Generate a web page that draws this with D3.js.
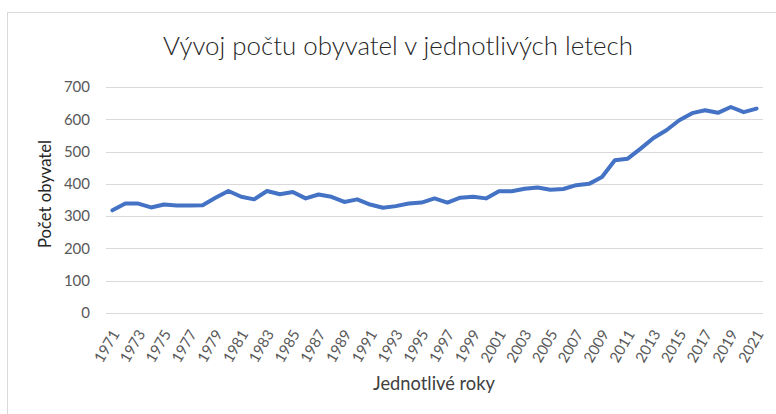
<!DOCTYPE html>
<html>
<head>
<meta charset="utf-8">
<script src="https://cdn.jsdelivr.net/npm/d3@7"></script>
<style>
  body { margin: 0; background: #fff; }
  svg { display: block; font-family: Lato, "Open Sans", sans-serif; }
</style>
</head>
<body>
<svg id="chart" width="776" height="414"></svg>
<script>
const years = d3.range(1971, 2022);
const population = [
  318, 339, 339, 327, 336, 333, 333, 334, 357, 378,
  360, 352, 378, 368, 375, 355, 367, 360, 344, 352,
  336, 326, 331, 339, 342, 355, 342, 357, 360, 355,
  377, 377, 385, 389, 382, 384, 396, 400, 421, 473,
  478, 509, 542, 566, 597, 619, 628, 620, 638, 622,
  633
];
const yTicks = [0, 100, 200, 300, 400, 500, 600, 700];
const xTickYears = years.filter((d, i) => i % 2 === 0);

const titleText = "Vývoj počtu obyvatel v jednotlivých letech";
const xTitle = "Jednotlivé roky";
const yTitle = "Počet obyvatel";

function main() {
  const svg = d3.select("#chart");
  const plot = {left: 106, right: 763, top: 87, bottom: 313};

  // chart area border (only left/top edges are visible in the picture)
  svg.append("rect")
    .attr("x", 7.5).attr("y", 12.5)
    .attr("width", 900).attr("height", 500)
    .attr("fill", "none")
    .attr("stroke", "#d9d9d9");

  const x = d3.scaleBand().domain(years).range([plot.left, plot.right]);
  const y = d3.scaleLinear().domain([0, 700]).range([plot.bottom, plot.top]);

  drawGrid(svg, y, plot);
  drawAxes(svg, x, y, plot);
  drawLine(svg, x, y);
  drawTitles(svg);
}

function drawGrid(svg, y, plot) {
  svg.append("g")
    .selectAll("line")
    .data(yTicks)
    .join("line")
    .attr("x1", plot.left).attr("x2", plot.right)
    .attr("y1", d => Math.round(y(d)) + 0.5)
    .attr("y2", d => Math.round(y(d)) + 0.5)
    .attr("stroke", "#d9d9d9")
    .attr("stroke-width", 1);
}

function drawAxes(svg, x, y, plot) {
  const yAxis = svg.append("g")
    .attr("transform", `translate(${plot.left - 16},0)`)
    .call(d3.axisLeft(y).tickValues(yTicks).tickSize(0).tickPadding(0));
  yAxis.select(".domain").remove();
  yAxis.selectAll("text")
    .attr("font-family", "Lato, sans-serif")
    .attr("font-size", 15)
    .attr("fill", "#595959");

  const xAxis = svg.append("g")
    .attr("transform", `translate(0,${plot.bottom})`)
    .call(d3.axisBottom(x).tickValues(xTickYears).tickSize(0).tickPadding(0));
  xAxis.select(".domain").remove();
  xAxis.selectAll("text")
    .attr("font-family", "Lato, sans-serif")
    .attr("font-size", 15)
    .attr("fill", "#595959")
    .attr("text-anchor", "end")
    .attr("dy", "0.35em")
    .attr("transform", "translate(3,18) rotate(-60)");
}

function drawLine(svg, x, y) {
  const line = d3.line()
    .x((d, i) => x(years[i]) + x.bandwidth() / 2)
    .y(d => y(d));

  svg.append("path")
    .datum(population)
    .attr("fill", "none")
    .attr("stroke", "#4472c4")
    .attr("stroke-width", 4)
    .attr("stroke-linejoin", "round")
    .attr("stroke-linecap", "round")
    .attr("d", line);
}

function fitText(sel, target) {
  const len = sel.node().getComputedTextLength();
  const size = parseFloat(sel.attr("font-size"));
  sel.attr("font-size", size * target / len);
}

function drawTitles(svg) {
  const t = svg.append("text")
    .attr("x", 398).attr("y", 55)
    .attr("text-anchor", "middle")
    .attr("font-family", "Lato, sans-serif")
    .attr("font-weight", 300)
    .attr("font-size", 22)
    .attr("fill", "#262626")
    .text(titleText);
  fitText(t, 470);

  const xt = svg.append("text")
    .attr("x", 434).attr("y", 390)
    .attr("text-anchor", "middle")
    .attr("font-family", "Lato, sans-serif")
    .attr("font-size", 15)
    .attr("fill", "#404040")
    .text(xTitle);
  fitText(xt, 122);

  const yt = svg.append("text")
    .attr("transform", "translate(51,194) rotate(-90)")
    .attr("text-anchor", "middle")
    .attr("font-family", "Lato, sans-serif")
    .attr("font-size", 15)
    .attr("fill", "#262626")
    .text(yTitle);
  fitText(yt, 108);
}

main();
</script>
</body>
</html>
